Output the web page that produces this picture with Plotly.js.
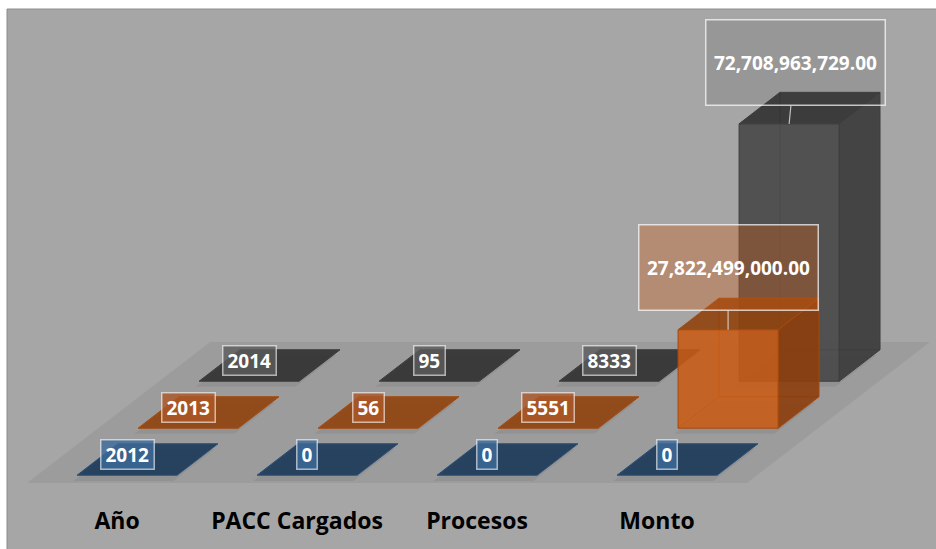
<!DOCTYPE html>
<html><head><meta charset="utf-8">
<script src="https://cdn.plot.ly/plotly-3.0.1.min.js"></script>
<style>html,body{margin:0;padding:0;background:#fff;}#chart{width:936px;height:549px;}</style>
</head><body><div id="chart"></div>
<script>
// ---- data ----
const categories = ['Año', 'PACC Cargados', 'Procesos', 'Monto'];
const seriesNames = ['2012', '2013', '2014'];
const values2012 = [2012, 0, 0, 0];
const values2013 = [2013, 56, 5551, 27822499000];
const values2014 = [2014, 95, 8333, 72708963729];
const labels2012 = ['2012', '0', '0', '0'];
const labels2013 = ['2013', '56', '5551', '27,822,499,000.00'];
const labels2014 = ['2014', '95', '8333', '72,708,963,729.00'];

// ---- styling / projection ----
const UNIT = 1e9;                 // value axis in billions
const DEPTH_X = 0.339, DEPTH_Y = 13.28; // oblique depth projection per series row
const BAR_W0 = 0.222, BAR_W1 = 0.778, BAR_D0 = 0.165, BAR_D1 = 0.835;
const styles = [
  {front:'rgba(46,84,128,0.9)', side:'rgba(29,53,80,0.9)', top:'rgba(34,62,92,0.95)', edge:'rgba(44,80,120,1)',
   lab:'rgba(62,108,155,0.8)', bigLab:'rgba(62,108,155,0.35)'},
  {front:'rgba(200,92,22,0.88)', side:'rgba(140,62,12,0.9)', top:'rgba(145,68,14,0.9)', edge:'rgba(165,74,16,1)',
   lab:'rgba(172,88,40,0.8)', bigLab:'rgba(205,92,25,0.36)'},
  {front:'rgba(74,74,74,0.93)', side:'rgba(60,60,60,0.93)', top:'rgba(52,52,52,0.93)', edge:'rgba(62,62,62,1)',
   lab:'rgba(92,92,92,0.8)', bigLab:'rgba(70,70,70,0.15)'}
];
const seriesValues = [values2012, values2013, values2014];
const seriesLabels = [labels2012, labels2013, labels2014];

function P(i, d, v) { return [i + d * DEPTH_X, v + d * DEPTH_Y]; }

const traces = [];
function poly(pts, fill, line, width) {
  const xs = pts.map(p => p[0]).concat([pts[0][0]]);
  const ys = pts.map(p => p[1]).concat([pts[0][1]]);
  traces.push({type:'scatter', mode:'lines', x:xs, y:ys, fill: fill ? 'toself' : 'none',
    fillcolor: fill || 'rgba(0,0,0,0)', line:{color:line, width:width || 1}, hoverinfo:'skip', showlegend:false});
}
function seg(a, b, color) {
  traces.push({type:'scatter', mode:'lines', x:[a[0], b[0]], y:[a[1], b[1]],
    line:{color:color, width:1}, hoverinfo:'skip', showlegend:false});
}

// floor
const nCat = categories.length, nSer = seriesNames.length;
poly([P(0,0,0), P(nCat,0,0), P(nCat,nSer,0), P(0,nSer,0)], 'rgba(0,0,0,0.055)', 'rgba(0,0,0,0)', 0);

const annotations = [];
// draw back rows first
for (let j = nSer - 1; j >= 0; j--) {
  const st = styles[j];
  for (let i = 0; i < nCat; i++) {
    const v = seriesValues[j][i];
    const h = (i === nCat - 1) ? v / UNIT : v / UNIT; // same value scale for all
    const i0 = i + BAR_W0, i1 = i + BAR_W1, d0 = j + BAR_D0, d1 = j + BAR_D1;
    const A = P(i0,d0,0), B = P(i1,d0,0), C = P(i1,d0,h), D = P(i0,d0,h);
    const E = P(i0,d1,0), F = P(i1,d1,0), G = P(i1,d1,h), H = P(i0,d1,h);
    // soft shadow
    poly([P(i0+0.02,d0-0.12,0), P(i1+0.02,d0-0.12,0), P(i1+0.02,d1-0.12,0), P(i0+0.02,d1-0.12,0)], 'rgba(0,0,0,0.06)', 'rgba(0,0,0,0)', 0);
    if (h > 1) {
      seg(E, F, st.edge); seg(E, H, st.edge); seg(E, A, st.edge);
      poly([B, F, G, C], st.side, st.edge);
      poly([D, C, G, H], st.top, st.edge);
      poly([A, B, C, D], st.front, st.edge);
    } else {
      poly([A, B, G, H], st.top, st.edge);
    }
    const anchor = P(i + 0.5, d0, h);
    const txt = seriesLabels[j][i];
    if (h > 1) {
      annotations.push({x:anchor[0], y:anchor[1], xref:'x', yref:'y', text:txt, showarrow:true,
        arrowhead:0, arrowwidth:1.2, arrowcolor:'rgba(235,235,235,0.75)', ax:(j === 2 ? 6 : 0), ay:(j === 2 ? -61 : -62),
        width:170, height:76, bgcolor:st.bigLab, bordercolor:'rgba(255,255,255,0.7)', borderwidth:1.5, borderpad:4,
        font:{family:'Open Sans', size:19, weight:'bold', color:'#ffffff'}});
    } else {
      annotations.push({x:anchor[0], y:anchor[1], xref:'x', yref:'y', text:txt, showarrow:false, yshift:21,
        height:20, bgcolor:st.lab, bordercolor:'rgba(255,255,255,0.6)', borderwidth:1.5, borderpad:4,
        font:{family:'Open Sans', size:19, weight:'bold', color:'#ffffff'}});
    }
  }
}

const layout = {
  width:936, height:549,
  margin:{l:0, r:0, t:0, b:66},
  paper_bgcolor:'#ffffff', plot_bgcolor:'rgba(0,0,0,0)',
  showlegend:false,
  xaxis:{range:[-0.15, 5.05], showgrid:false, zeroline:false, showline:false, ticks:'',
    tickvals:categories.map((c, k) => k + 0.5), ticktext:categories, ticklabelstandoff:22,
    tickfont:{family:'Open Sans', size:23, weight:'bold', color:'#000000'}, fixedrange:true},
  yaxis:{range:[0, 136.44], visible:false, fixedrange:true},
  shapes:[{type:'rect', xref:'paper', yref:'paper', layer:'below', x0:7/936, x1:1.01, y0:-0.2, y1:1 - 9/483,
    fillcolor:'#a6a6a6', line:{color:'#8c8c8c', width:1}}],
  annotations:annotations
};
Plotly.newPlot('chart', traces, layout, {displayModeBar:false, staticPlot:true});
</script>
</body></html>
